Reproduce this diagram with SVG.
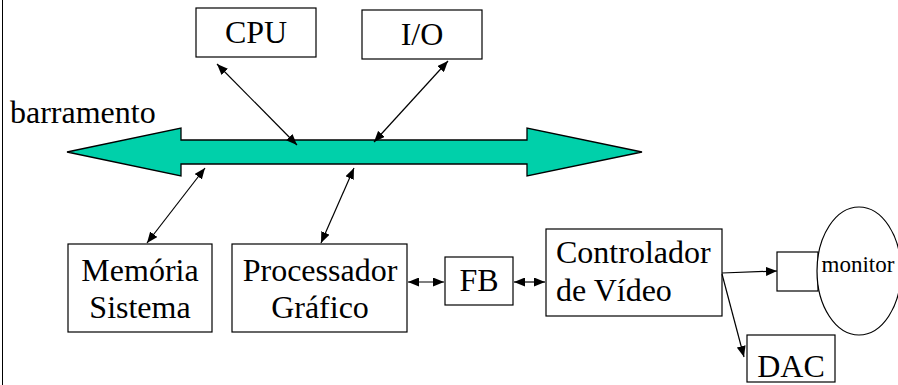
<svg xmlns="http://www.w3.org/2000/svg" width="898" height="385" viewBox="0 0 898 385">
<defs>
<marker id="ah" viewBox="0 0 11 9" refX="11" refY="4.5" markerWidth="11" markerHeight="9" markerUnits="userSpaceOnUse" orient="auto-start-reverse">
<path d="M0,0 L11,4.5 L0,9 z" fill="#000"/>
</marker>
<style>
.box{fill:#fff;stroke:#000;stroke-width:1.2}
.t{font-family:"Liberation Serif","Times New Roman",serif;font-size:32px;fill:#000}
.c{text-anchor:middle}
.ln{stroke:#000;stroke-width:1.2;fill:none}
.bi{marker-start:url(#ah);marker-end:url(#ah)}
.uni{marker-end:url(#ah)}
</style>
</defs>
<rect width="898" height="385" fill="#fff"/>
<line x1="2.5" y1="0" x2="2.5" y2="385" stroke="#000" stroke-width="1"/>
<g id="bus">
<polygon points="67,152 181,128 181,140 527,140 527,128 642,152 527,176 527,164 181,164 181,176" fill="#00D0AA" stroke="#000" stroke-width="1.3"/>
<text class="t" x="10" y="123">barramento</text>
</g>
<g id="cpu"><rect class="box" x="196" y="8" width="120" height="49"/><text class="t c" x="256" y="43">CPU</text></g>
<g id="io"><rect class="box" x="362" y="10" width="120" height="49"/><text class="t c" x="422" y="45">I/O</text></g>
<g id="mem"><rect class="box" x="68" y="244" width="144" height="88"/><text class="t c" x="140" y="281">Memória</text><text class="t c" x="140" y="318">Sistema</text></g>
<g id="pg"><rect class="box" x="232" y="244" width="175" height="88"/><text class="t c" x="320" y="281">Processador</text><text class="t c" x="320" y="318">Gráfico</text></g>
<g id="fb"><rect class="box" x="445" y="257" width="68" height="48"/><text class="t c" x="479" y="291">FB</text></g>
<g id="ctrl"><rect class="box" x="546" y="229" width="176" height="87"/><text class="t" x="556" y="263">Controlador</text><text class="t" x="556" y="301">de Vídeo</text></g>
<g id="conn"><rect class="box" x="777" y="252" width="41" height="39"/></g>
<g id="monitor"><ellipse cx="859" cy="271" rx="42" ry="64" fill="#fff" stroke="#000" stroke-width="1.2"/><text class="t c" x="858" y="272" style="font-size:23px">monitor</text></g>
<g id="dac"><rect class="box" x="747" y="335" width="88" height="47"/><text class="t c" x="791" y="377">DAC</text></g>
<g id="connectors">
<line class="ln bi" x1="217" y1="64" x2="297" y2="145"/>
<line class="ln bi" x1="448" y1="61" x2="374" y2="142"/>
<line class="ln bi" x1="205" y1="168" x2="147" y2="243"/>
<line class="ln bi" x1="354" y1="168" x2="321" y2="243"/>
<line class="ln bi" x1="408" y1="282" x2="444" y2="282"/>
<line class="ln bi" x1="514" y1="282" x2="545" y2="282"/>
<line class="ln uni" x1="722" y1="273" x2="777" y2="271"/>
<line class="ln uni" x1="722" y1="274" x2="744" y2="357"/>
</g>
</svg>
